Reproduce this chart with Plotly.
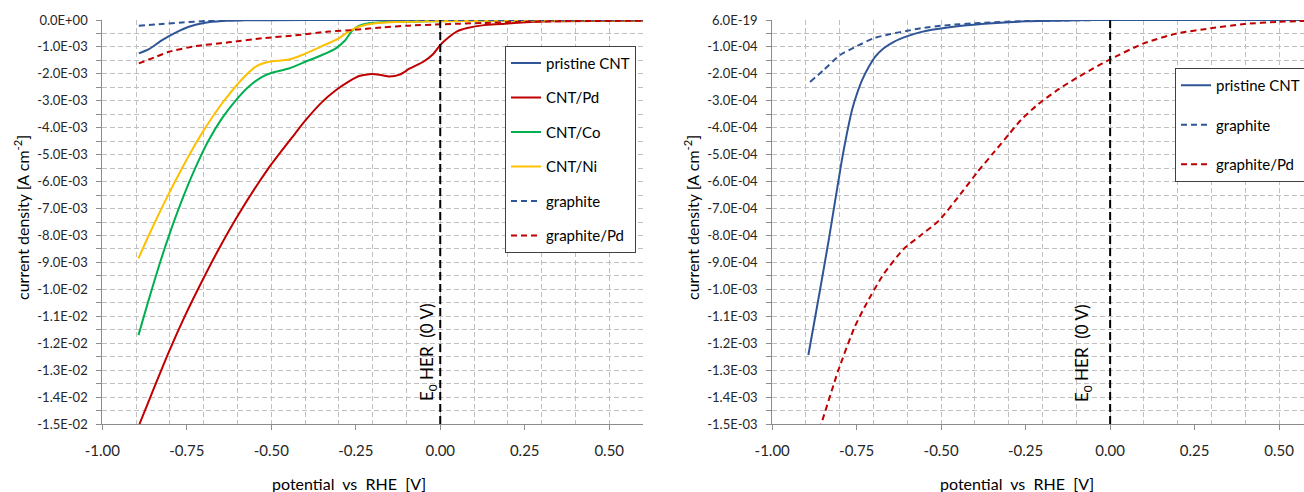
import numpy as np
import plotly.graph_objects as go

# ---------------- data: left panel (CNT electrodes), current density in mA cm^-2 ----------------
pristine_cnt_x = [-0.892, -0.862, -0.823, -0.783, -0.744, -0.695, -0.645, -0.576, -0.50, -0.30, 0.0, 0.3, 0.6]
pristine_cnt_ma = [-1.24, -1.08, -0.75, -0.47, -0.25, -0.10, -0.04, -0.01, -0.005, 0, 0, 0, 0]

cnt_pd_x = [-0.89, -0.853, -0.804, -0.754, -0.705, -0.656, -0.597, -0.508, -0.429, -0.399, -0.35, -0.31,
            -0.27, -0.24, -0.21, -0.18, -0.15, -0.12, -0.09, -0.05, -0.02, 0.0, 0.025, 0.05, 0.08,
            0.13, 0.18, 0.23, 0.33, 0.6]
cnt_pd_ma = [-15.0, -13.85, -12.35, -10.95, -9.70, -8.52, -7.22, -5.50, -4.21, -3.73, -3.05, -2.62,
             -2.28, -2.08, -2.01, -2.03, -2.10, -2.03, -1.80, -1.55, -1.25, -0.93, -0.64, -0.42, -0.30,
             -0.19, -0.15, -0.10, -0.05, -0.03]

cnt_co_x = [-0.893, -0.863, -0.833, -0.804, -0.764, -0.725, -0.686, -0.646, -0.606, -0.567, -0.527,
            -0.498, -0.448, -0.399, -0.350, -0.310, -0.281, -0.261, -0.241, -0.212, -0.153, -0.035, 0.2, 0.6]
cnt_co_ma = [-11.70, -10.40, -9.16, -8.05, -6.68, -5.50, -4.48, -3.65, -3.00, -2.48, -2.11,
             -1.96, -1.80, -1.55, -1.30, -1.06, -0.75, -0.40, -0.22, -0.12, -0.07, -0.05, -0.02, -0.01]

cnt_ni_x = [-0.893, -0.863, -0.823, -0.784, -0.744, -0.705, -0.675, -0.636, -0.586, -0.547, -0.507,
            -0.448, -0.409, -0.350, -0.300, -0.271, -0.241, -0.192, -0.133, -0.035, 0.2, 0.6]
cnt_ni_ma = [-8.85, -8.01, -6.95, -5.98, -5.04, -4.20, -3.62, -2.94, -2.19, -1.74, -1.55,
             -1.47, -1.30, -0.97, -0.68, -0.43, -0.25, -0.12, -0.07, -0.05, -0.02, -0.01]

graphite_x = [-0.892, -0.823, -0.764, -0.695, -0.626, -0.5, 0.0, 0.6]
graphite_ma = [-0.21, -0.15, -0.09, -0.04, -0.01, 0, 0, 0]

graphite_pd_x = [-0.892, -0.842, -0.803, -0.724, -0.626, -0.527, -0.429, -0.33, -0.256, -0.168,
                 -0.094, 0.0, 0.06, 0.128, 0.227, 0.375, 0.6]
graphite_pd_ma = [-1.61, -1.37, -1.18, -0.97, -0.83, -0.68, -0.57, -0.43, -0.37, -0.27,
                  -0.21, -0.16, -0.135, -0.11, -0.07, -0.04, -0.03]

# ---------------- data: right panel (low-current electrodes), mA cm^-2 ----------------
r_pristine_cnt_x = [-0.893, -0.861, -0.833, -0.794, -0.779, -0.764, -0.749, -0.734, -0.714, -0.695,
                    -0.670, -0.640, -0.600, -0.561, -0.481, -0.372, -0.25, -0.1, 0.0, 0.3, 0.58]
r_pristine_cnt_ma = [-1.244, -1.020, -0.819, -0.521, -0.422, -0.335, -0.273, -0.223, -0.174, -0.136,
                     -0.105, -0.081, -0.060, -0.045, -0.028, -0.014, -0.005, -0.001, 0, 0, 0]

r_graphite_x = [-0.888, -0.848, -0.799, -0.749, -0.700, -0.650, -0.600, -0.561, -0.481, -0.372,
                -0.25, -0.1, 0.0, 0.58]
r_graphite_ma = [-0.230, -0.186, -0.130, -0.097, -0.068, -0.052, -0.040, -0.031, -0.019, -0.010,
                 -0.004, -0.001, 0, 0]

r_graphite_pd_x = [-0.862, -0.855, -0.805, -0.756, -0.719, -0.670, -0.611, -0.561, -0.506, -0.442, -0.393,
                   -0.343, -0.30, -0.263, -0.22, -0.198, -0.15, -0.099, -0.05, 0.0, 0.099, 0.198, 0.297,
                   0.397, 0.496, 0.58]
r_graphite_pd_ma = [-1.52, -1.499, -1.303, -1.14, -1.048, -0.943, -0.850, -0.800, -0.744, -0.645, -0.565,
                    -0.490, -0.425, -0.370, -0.320, -0.298, -0.255, -0.215, -0.180, -0.146, -0.087, -0.050,
                    -0.031, -0.015, -0.007, -0.003]

# ---------------- axis ticks ----------------
x_tickvals = [-1.0, -0.75, -0.5, -0.25, 0.0, 0.25, 0.5]
x_ticktext = ["-1.00", "-0.75", "-0.50", "-0.25", "0.00", "0.25", "0.50"]

left_y_tickvals = [0.0, -1e-3, -2e-3, -3e-3, -4e-3, -5e-3, -6e-3, -7e-3, -8e-3, -9e-3,
                   -1.0e-2, -1.1e-2, -1.2e-2, -1.3e-2, -1.4e-2, -1.5e-2]
left_y_ticktext = ["0.0E+00", "-1.0E-03", "-2.0E-03", "-3.0E-03", "-4.0E-03", "-5.0E-03", "-6.0E-03",
                   "-7.0E-03", "-8.0E-03", "-9.0E-03", "-1.0E-02", "-1.1E-02", "-1.2E-02", "-1.3E-02",
                   "-1.4E-02", "-1.5E-02"]

right_y_tickvals = [6e-19, -1e-4, -2e-4, -3e-4, -4e-4, -5e-4, -6e-4, -7e-4, -8e-4, -9e-4,
                    -1.0e-3, -1.1e-3, -1.2e-3, -1.3e-3, -1.4e-3, -1.5e-3]
right_y_ticktext = ["6.0E-19", "-1.0E-04", "-2.0E-04", "-3.0E-04", "-4.0E-04", "-5.0E-04", "-6.0E-04",
                    "-7.0E-04", "-8.0E-04", "-9.0E-04", "-1.0E-03", "-1.1E-03", "-1.2E-03", "-1.3E-03",
                    "-1.4E-03", "-1.5E-03"]

HER_POTENTIAL = 0.0  # reversible hydrogen electrode, V vs RHE

# ---------------- styling ----------------
W, H = 1304, 492
FONT = "Lato, Carlito, 'Liberation Sans', sans-serif"
BLUE = "#2F5597"
RED = "#C00000"
GREEN = "#00B050"
GOLD = "#FFC000"
GRID = "#BFBFBF"
AXIS = "#8C8C8C"

MA = 1e-3  # mA -> A

fig = go.Figure()


def add_curve(x, y_ma, name, color, dash, xa, ya, legend):
    fig.add_trace(go.Scatter(
        x=x, y=np.array(y_ma) * MA, name=name, mode="lines",
        line=dict(color=color, width=2, dash=dash, shape="spline", smoothing=0.6),
        xaxis=xa, yaxis=ya, legend=legend, legendgroup=legend + name,
    ))


# left panel
add_curve(pristine_cnt_x, pristine_cnt_ma, "pristine CNT", BLUE, "solid", "x", "y", "legend")
add_curve(cnt_pd_x, cnt_pd_ma, "CNT/Pd", RED, "solid", "x", "y", "legend")
add_curve(cnt_co_x, cnt_co_ma, "CNT/Co", GREEN, "solid", "x", "y", "legend")
add_curve(cnt_ni_x, cnt_ni_ma, "CNT/Ni", GOLD, "solid", "x", "y", "legend")
add_curve(graphite_x, graphite_ma, "graphite", BLUE, "6px,4px", "x", "y", "legend")
add_curve(graphite_pd_x, graphite_pd_ma, "graphite/Pd", RED, "6px,4px", "x", "y", "legend")

# right panel
add_curve(r_pristine_cnt_x, r_pristine_cnt_ma, "pristine CNT", BLUE, "solid", "x2", "y2", "legend2")
add_curve(r_graphite_x, r_graphite_ma, "graphite", BLUE, "6px,4px", "x2", "y2", "legend2")
add_curve(r_graphite_pd_x, r_graphite_pd_ma, "graphite/Pd", RED, "6px,4px", "x2", "y2", "legend2")

# plot-area geometry (pixels)
L_LEFT, L_RIGHT = 102.3, 643.0
R_LEFT, R_RIGHT = 772.2, 1304.0
P_TOP, P_BOTTOM = 20.0, 424.0


def xaxis_style(domain, rng):
    return dict(
        domain=domain, range=rng, showgrid=False, zeroline=False, automargin=False,
        tickmode="array", tickvals=x_tickvals, ticktext=x_ticktext,
        ticks="outside", ticklen=5, tickcolor=AXIS, tickwidth=1,
        showline=True, linecolor=AXIS, linewidth=1,
        tickfont=dict(family=FONT, size=15, color="#262626"),
        ticklabelstandoff=8,
        minor=dict(tickmode="linear", tick0=-1.0, dtick=0.1, showgrid=True,
                   gridcolor=GRID, griddash="5px,3px", gridwidth=1, ticks=""),
    )


def yaxis_style(domain, rng, vals, text, minor_step, anchor):
    return dict(
        domain=domain, range=rng, anchor=anchor, zeroline=False, automargin=False,
        tickmode="array", tickvals=vals, ticktext=text,
        showgrid=True, gridcolor=GRID, griddash="5px,3px", gridwidth=1,
        ticks="outside", ticklen=5, tickcolor=AXIS, tickwidth=1,
        showline=True, linecolor=AXIS, linewidth=1,
        tickfont=dict(family=FONT, size=13, color="#262626"),
        ticklabelstandoff=6,
        minor=dict(tickmode="linear", tick0=0, dtick=minor_step, showgrid=True,
                   gridcolor=GRID, griddash="5px,3px", gridwidth=1,
                   ticks="outside", ticklen=5, tickcolor=AXIS),
    )


ydom = [1 - P_BOTTOM / H, 1 - P_TOP / H]
r_xmax = -1.0 + (R_RIGHT - R_LEFT) / (L_RIGHT - L_LEFT) * 1.6

fig.update_layout(
    width=W, height=H, margin=dict(l=0, r=0, t=0, b=0, autoexpand=False),
    paper_bgcolor="white", plot_bgcolor="white",
    font=dict(family=FONT, color="black"),
    xaxis=xaxis_style([L_LEFT / W, L_RIGHT / W], [-1.0, 0.6]) | dict(anchor="y"),
    yaxis=yaxis_style(ydom, [-0.015, 0.0], left_y_tickvals, left_y_ticktext, 0.5e-3, "x"),
    xaxis2=xaxis_style([R_LEFT / W, R_RIGHT / W], [-1.0, r_xmax]) | dict(anchor="y2"),
    yaxis2=yaxis_style(ydom, [-1.5e-3, 6e-19], right_y_tickvals, right_y_ticktext, 0.5e-4, "x2"),
    legend=dict(
        x=505 / W, y=1 - 45.7 / H, xanchor="left", yanchor="top",
        bgcolor="white", bordercolor="#404040", borderwidth=1,
        font=dict(family=FONT, size=15, color="black"),
        tracegroupgap=12, itemwidth=30,
    ),
    legend2=dict(
        x=1175 / W, y=1 - 68 / H, xanchor="left", yanchor="top",
        bgcolor="white", bordercolor="#404040", borderwidth=1,
        font=dict(family=FONT, size=15, color="black"),
        tracegroupgap=17, itemwidth=30,
    ),
    showlegend=True,
)

# E0 HER reference lines
for xa in ("x", "x2"):
    ya = "y" if xa == "x" else "y2"
    fig.add_shape(type="line", xref=xa, yref=f"{ya} domain",
                  x0=HER_POTENTIAL, x1=HER_POTENTIAL, y0=0, y1=1,
                  line=dict(color="black", width=2, dash="8px,4px"), layer="above")

# annotations: axis titles and E0 label
ytitle = "current density [A cm<sup>-2</sup>]"
xtitle = "potential\u00a0\u00a0vs\u00a0\u00a0RHE\u00a0\u00a0[V]"
e0_text = "E<sub>0</sub>\u00a0HER\u00a0\u00a0(0\u00a0V)"

annos = [
    dict(x=21 / W, y=1 - 218 / H, text=ytitle, textangle=-90, font=dict(size=16)),
    dict(x=691 / W, y=1 - 218 / H, text=ytitle, textangle=-90, font=dict(size=16)),
    dict(x=349 / W, y=1 - 483 / H, text=xtitle, font=dict(size=16)),
    dict(x=1017 / W, y=1 - 483 / H, text=xtitle, font=dict(size=16)),
    dict(x=428 / W, y=1 - 352 / H, text=e0_text, textangle=-90, font=dict(size=17)),
    dict(x=1083 / W, y=1 - 353 / H, text=e0_text, textangle=-90, font=dict(size=17)),
]
for a in annos:
    fig.add_annotation(xref="paper", yref="paper", showarrow=False,
                       xanchor="center", yanchor="middle",
                       font=dict(family=FONT, color="black", size=a["font"]["size"]),
                       **{k: v for k, v in a.items() if k != "font"})

fig.write_html("out.html")
